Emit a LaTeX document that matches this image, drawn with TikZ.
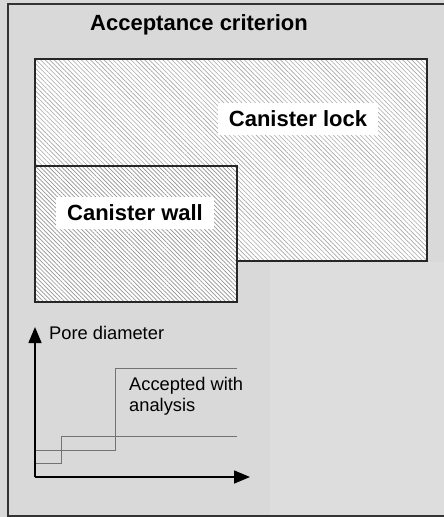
\documentclass[tikz,border=0pt]{standalone}
\usepackage{fontspec}
\setmainfont{Liberation Sans}
\usetikzlibrary{arrows.meta,patterns.meta}
\definecolor{bg}{gray}{0.85}
\definecolor{bglight}{gray}{0.865}
\definecolor{lockline}{gray}{0.66}
\definecolor{wallline}{gray}{0.58}
\tikzset{
  region/.style={draw=black!85,line width=1.4pt},
  lockhatch/.style={pattern={Lines[angle=-45,distance=3.2pt,line width=0.6pt]},pattern color=lockline},
  wallhatch/.style={pattern={Lines[angle=-45,distance=3pt,line width=0.7pt]},pattern color=wallline},
  label/.style={fill=white,font=\bfseries\fontsize{22}{24}\selectfont,inner xsep=11pt,inner ysep=8pt},
  axis/.style={line width=1.5pt,-{Triangle[length=16pt,width=13pt]}},
  stepline/.style={draw=black!55,line width=1pt},
  frame/.style={draw=black!80,line width=1.6pt}
}
\begin{document}
\begin{tikzpicture}[x=1pt,y=-1pt]
\useasboundingbox (0,0) rectangle (444,517);
\fill[bg] (0,0) rectangle (444,517);
\fill[bglight] (270,262) rectangle (444,517);
\draw[frame] (444,4) -- (8,4) -- (8,516) -- (444,516);
\node[font=\bfseries\fontsize{22}{24}\selectfont] (title) at (199,25) {Acceptance criterion};
% canister lock
\fill[white] (35,59) rectangle (427,261);
\path[lockhatch] (35,59) rectangle (427,261);
\draw[region] (35,59) rectangle (427,261);
% canister wall
\fill[white] (35,166) rectangle (237,302);
\path[wallhatch] (35,166) rectangle (237,302);
\draw[region] (35,166) rectangle (237,302);
\node[label] (lock) at (298,119) {Canister lock};
\node[label] (wall) at (135,213) {Canister wall};
% graph
\coordinate (origin) at (35,477);
\coordinate (ytip) at (35,327);
\coordinate (xtip) at (250,477);
\draw[stepline] (35,450) -- (115,450) -- (115,368) -- (237,368);
\draw[stepline] (35,463) -- (61,463) -- (61,436) -- (237,436);
\draw[axis] (origin) -- (ytip);
\draw[axis] (origin) -- (xtip);
\node[anchor=west,font=\fontsize{18.3}{20}\selectfont,inner sep=0pt] (pore) at (49,333) {Pore diameter};
\node[anchor=north west,align=left,font=\fontsize{18.3}{20.6}\selectfont,inner sep=0pt] (acc) at (129,377) {Accepted with\\analysis};
\end{tikzpicture}
\end{document}
